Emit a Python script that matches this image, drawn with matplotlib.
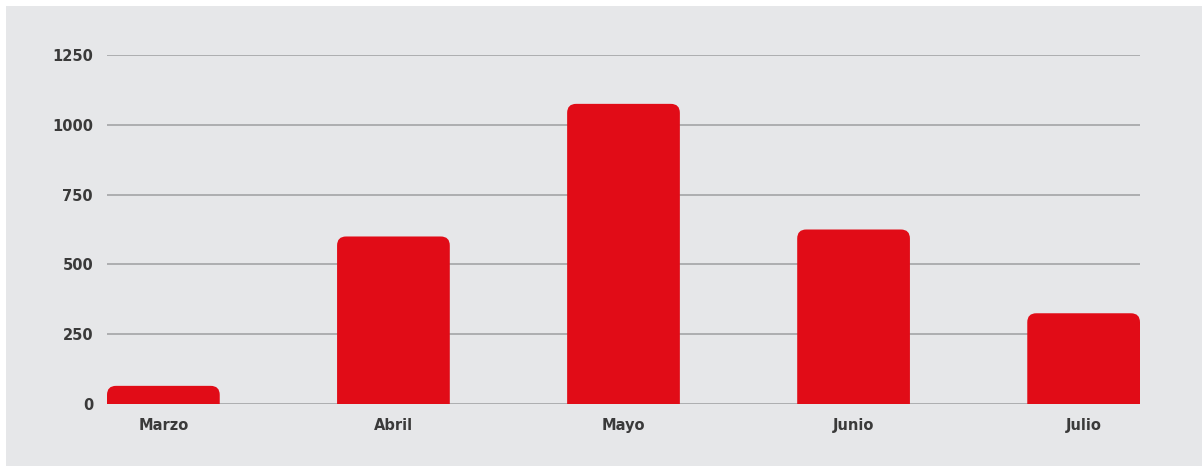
import matplotlib
matplotlib.use("Agg")
import matplotlib.pyplot as plt
from matplotlib.patches import FancyBboxPatch, Rectangle

months = ["Marzo", "Abril", "Mayo", "Junio", "Julio"]
values = [65, 600, 1075, 625, 325]
yticks = [0, 250, 500, 750, 1000, 1250]

W, H, DPI = 1202, 466, 100
fig = plt.figure(figsize=(W / DPI, H / DPI), dpi=DPI, facecolor="white")
plt.rcParams["font.family"] = ["DejaVu Sans"]

# gray panel behind the chart
fig.add_artist(Rectangle((6 / W, 0), 1 - 6 / W, 1 - 6 / H, transform=fig.transFigure,
                         facecolor="#e6e7e9", edgecolor="none", zorder=-5))

left, right, top, bottom = 107, 1140, 55, 404
ax = fig.add_axes([left / W, 1 - bottom / H, (right - left) / W, (bottom - top) / H])
ax.set_facecolor("none")
ax.set_zorder(2)

bw = 0.49
ax.set_xlim(-bw / 2, len(months) - 1 + bw / 2)
ax.set_ylim(0, 1250)

xpx = (right - left) / (ax.get_xlim()[1] - ax.get_xlim()[0])
ypx = (bottom - top) / 1250
radius_px = 9
aspect = xpx / ypx

for i, v in enumerate(values):
    ext = 60
    p = FancyBboxPatch((i - bw / 2, -ext), bw, v + ext,
                       boxstyle=f"round,pad=0,rounding_size={radius_px / xpx}",
                       mutation_aspect=aspect,
                       facecolor="#e10c17", edgecolor="none", zorder=3)
    ax.add_patch(p)
    p.set_clip_path(ax.patch)

for y in yticks:
    ax.axhline(y, color="#a9aaac", lw=1.3, zorder=1)

ax.set_yticks(yticks)
ax.set_yticklabels([str(t) for t in yticks], fontsize=10.5, color="#3a3a3a", fontweight="bold")
ax.set_xticks(range(len(months)))
ax.set_xticklabels(months, fontsize=10.5, color="#3a3a3a", fontweight="bold")
ax.tick_params(axis="y", length=0, pad=10)
ax.tick_params(axis="x", length=0, pad=10)
for s in ax.spines.values():
    s.set_visible(False)

fig.savefig("out.png", dpi=DPI, facecolor="white")
